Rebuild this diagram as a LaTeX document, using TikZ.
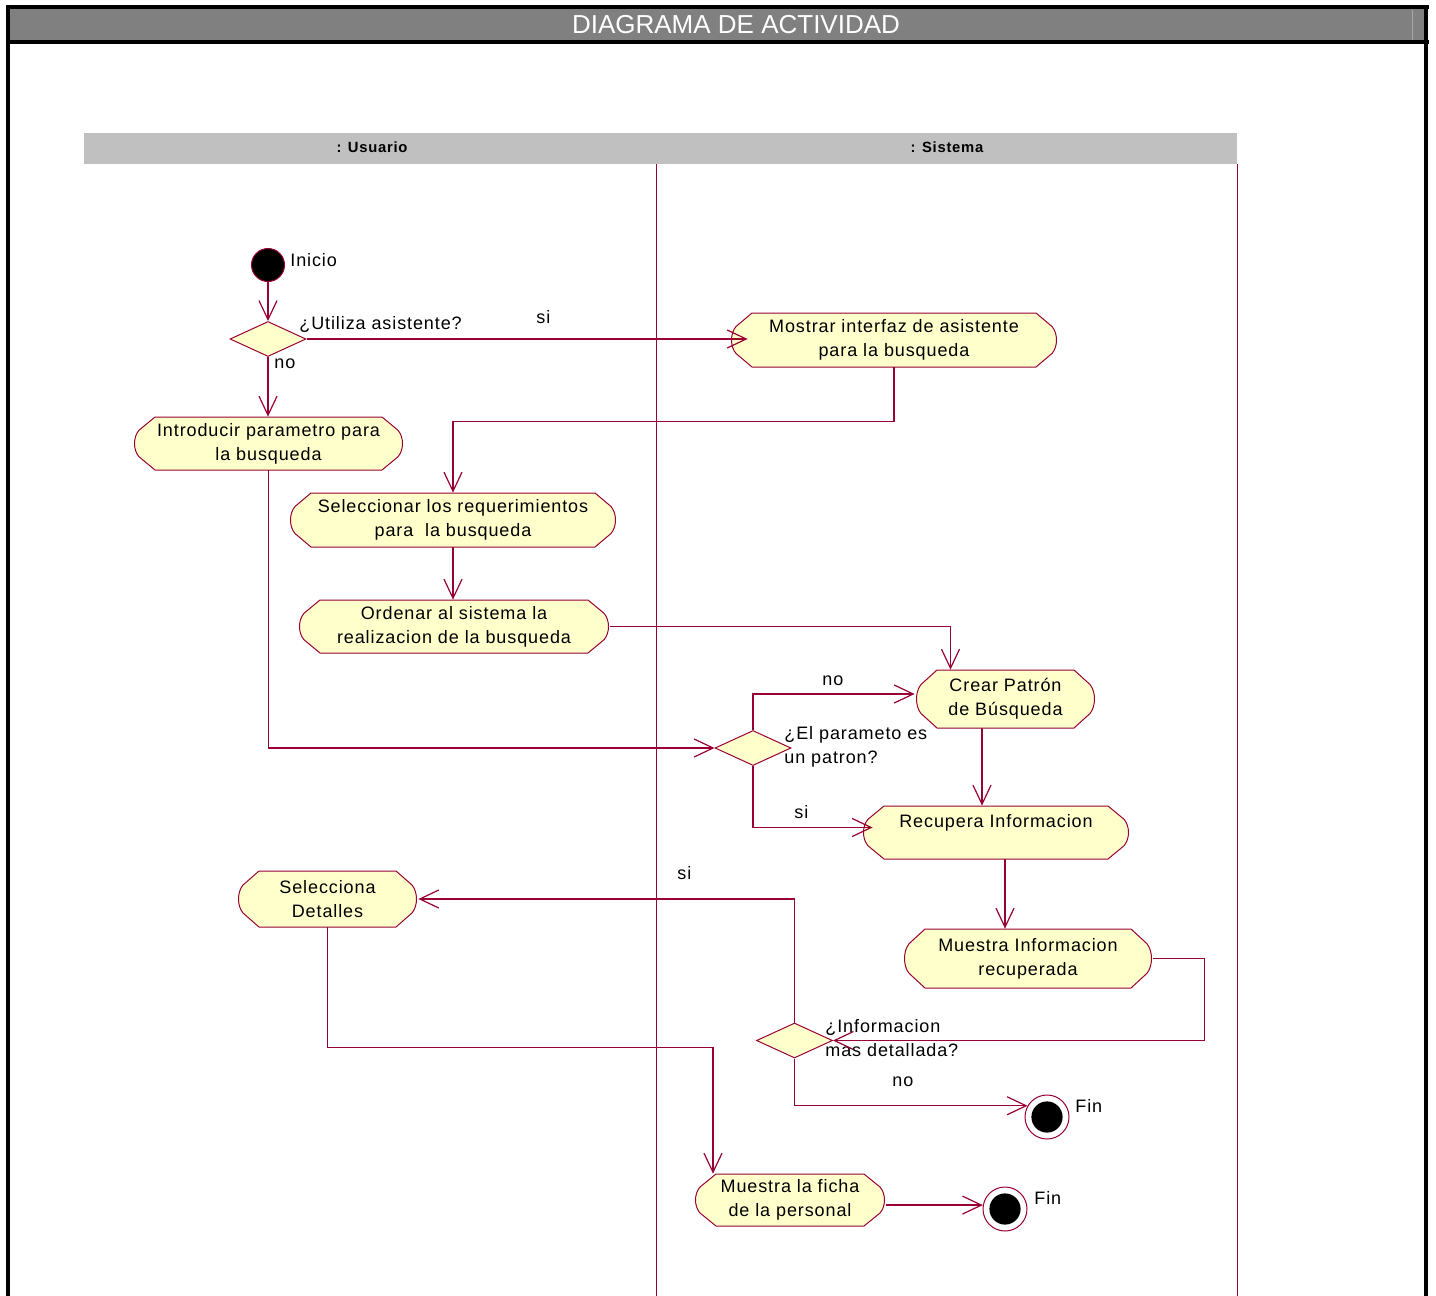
\documentclass[tikz,border=0pt]{standalone}
\usepackage{fontspec}
\setmainfont[LetterSpace=5]{Liberation Sans}
\newfontfamily\titlefont{Liberation Sans}
\usetikzlibrary{arrows.meta,shapes.geometric,calc}

\definecolor{rose}{RGB}{153,0,51}
\definecolor{actfill}{RGB}{255,255,204}
\definecolor{lanegray}{RGB}{192,192,192}
\definecolor{bargray}{RGB}{128,128,128}
\definecolor{bevel}{RGB}{168,168,168}

% activity: name, left, top, right, bottom, text
\newcommand\actnode[6]{%
  \path[draw=rose, fill=actfill, line width=0.5pt]
    ({#2+22},#3) -- ({#4-22},#3) -- ({#4-6},{#3+0.25*(#5-#3)})
    .. controls ({#4},{#3+0.38*(#5-#3)}) and ({#4},{#5-0.38*(#5-#3)}) .. ({#4-6},{#5-0.25*(#5-#3)})
    -- ({#4-22},#5) -- ({#2+22},#5) -- ({#2+6},{#5-0.25*(#5-#3)})
    .. controls ({#2},{#5-0.38*(#5-#3)}) and ({#2},{#3+0.38*(#5-#3)}) .. ({#2+6},{#3+0.25*(#5-#3)})
    -- cycle;
  \node[acttext, minimum width={(#4-#2)*0.5pt}, minimum height={(#5-#3)*0.5pt}]
    (#1) at ({(#2+#4)/2},{(#3+#5)/2}) {#6};
}

\tikzset{
  flow/.style={draw=rose, line width=0.7pt,
    -{Straight Barb[length=9.5pt,width=9pt,line width=0.6pt]}},
  lane/.style={draw=rose, line width=0.5pt},
  decision/.style={diamond, draw=rose, fill=actfill, line width=0.5pt,
    inner sep=0pt, minimum width=38pt, minimum height=17.5pt},
  startnode/.style={circle, draw=rose, fill=black, line width=0.5pt,
    minimum size=16.5pt, inner sep=0pt},
  endnode/.style={circle, draw=rose, fill=white, line width=0.5pt,
    minimum size=22pt, inner sep=0pt,
    path picture={\fill[black] (path picture bounding box.center) circle (7.8pt);}},
  lbl/.style={inner sep=0pt, anchor=west, align=left},
  acttext/.style={inner sep=0pt, align=center},
  lanetitle/.style={inner sep=0pt, font=\fontsize{7.4}{9}\selectfont\bfseries},
}

\begin{document}
\begin{tikzpicture}[x=0.5pt, y=-0.5pt, font=\fontsize{9}{12}\selectfont]
\useasboundingbox (0,0) rectangle (1436,1296);
\fill[white] (0,0) rectangle (1436,1296);

% frame and title bar
\fill[bargray] (10,9) rectangle (1424,40);
\draw[bevel, line width=0.5pt] (1412,10) -- (1412,40);
\fill[black] (6,5) rectangle (1429,9);
\fill[black] (6,40) rectangle (1429,44);
\fill[black] (6,5) rectangle (10,1296);
\fill[black] (1424,5) rectangle (1428,1296);
\node[inner sep=0pt, text=white, font=\titlefont\fontsize{13}{15}\selectfont] (title) at (736,25) {DIAGRAMA DE ACTIVIDAD};

% swimlanes
\fill[lanegray] (84,133) rectangle (1237,164);
\node[lanetitle] (usuario) at (372,147) {: Usuario};
\node[lanetitle] (sistema) at (947,147) {: Sistema};
\draw[lane] (656,164) -- (656,1296);
\draw[lane] (1237,164) -- (1237,1296);

% activities
\actnode{mostrar}{730}{313}{1058}{367}{Mostrar interfaz de asistente\\para la busqueda}
\actnode{intro}{133}{417}{404}{470}{Introducir parametro para\\la busqueda}
\actnode{selecc}{289}{493}{617}{547}{Seleccionar los requerimientos\\para \ la busqueda}
\actnode{ordenar}{298}{600}{610}{653}{Ordenar al sistema la\\realizacion de la busqueda}
\actnode{crear}{915}{670}{1096}{728}{Crear Patrón\\de Búsqueda}
\actnode{recup}{862}{806}{1130}{859}{Recupera Informacion\\\mbox{}}
\actnode{minfo}{903}{929}{1153}{988}{Muestra Informacion\\recuperada}
\actnode{seldet}{237}{871}{418}{927}{Selecciona\\Detalles}
\actnode{mficha}{694}{1174}{886}{1226}{Muestra la ficha\\de la personal}

% start, decisions, ends
\node[startnode] (inicio) at (268,265) {};
\node[decision] (dec1) at (268,339) {};
\node[decision] (dec2) at (753,748) {};
\node[decision] (dec3) at (794.5,1040.5) {};
\node[endnode] (fin1) at (1047,1117) {};
\node[endnode] (fin2) at (1005,1209) {};

% labels
\node[lbl] (linicio) at (290,260) {Inicio};
\node[lbl] (ldec1) at (299,325) {¿Utiliza asistente?};
\node[lbl] (lsi1) at (536,317) {si};
\node[lbl] (lno1) at (274,364) {no};
\node[lbl] (ldec2) at (784,747) {¿El parameto es\\un patron?};
\node[lbl] (lno2) at (822,681) {no};
\node[lbl] (lsi2) at (794,812) {si};
\node[lbl] (ldec3) at (825,1038) {¿Informacion\\mas detallada?};
\node[lbl] (lsi3) at (677,873) {si};
\node[lbl] (lno3) at (892,1082) {no};
\node[lbl] (lfin1) at (1075,1106) {Fin};
\node[lbl] (lfin2) at (1034,1198) {Fin};

% bend points
\coordinate (c1) at ($(crear.south)+(-23.5,0)$);
\coordinate (c2) at ($(recup.south)+(9,0)$);
\coordinate (c3) at ($(mficha.north)+(-77,0)$);
\coordinate (c4) at (mficha.east |- fin2.170);
\coordinate (c5) at ($(crear.north)+(-55,0)$);
\coordinate (c6) at ($(mostrar.west)+(18,-2)$);

% transitions
\draw[flow] (inicio.south) -- (inicio.south |- dec1.north);
\draw[flow] (dec1.east) -- (dec1.east -| c6);
\draw[flow] (mostrar.south) -- ++(0,54) -| (selecc.north);
\draw[flow] (dec1.south) -- (dec1.south |- intro.north);
\draw[flow] (selecc.south) -- (selecc.south |- ordenar.north);
\draw[flow] (ordenar.east) -| (c5);
\draw[flow] (intro.south) |- (dec2.west);
\draw[flow] (dec2.north) |- ($(crear.west)+(0,-5)$);
\draw[flow] (dec2.south) |- ($(recup.west)+(11,-5)$);
\draw[flow] (c1) -- (c1 |- recup.north);
\draw[flow] (c2) -- (c2 |- minfo.north);
\draw[flow] (minfo.east) -- ++(51,0) |- (dec3.east);
\draw[flow] (dec3.north) |- (seldet.east);
\draw[flow] (dec3.south) |- (fin1.150);
\draw[flow] (seldet.south) -- ++(0,120) -| (c3);
\draw[flow] (c4) -- (fin2.170);
\end{tikzpicture}
\end{document}
